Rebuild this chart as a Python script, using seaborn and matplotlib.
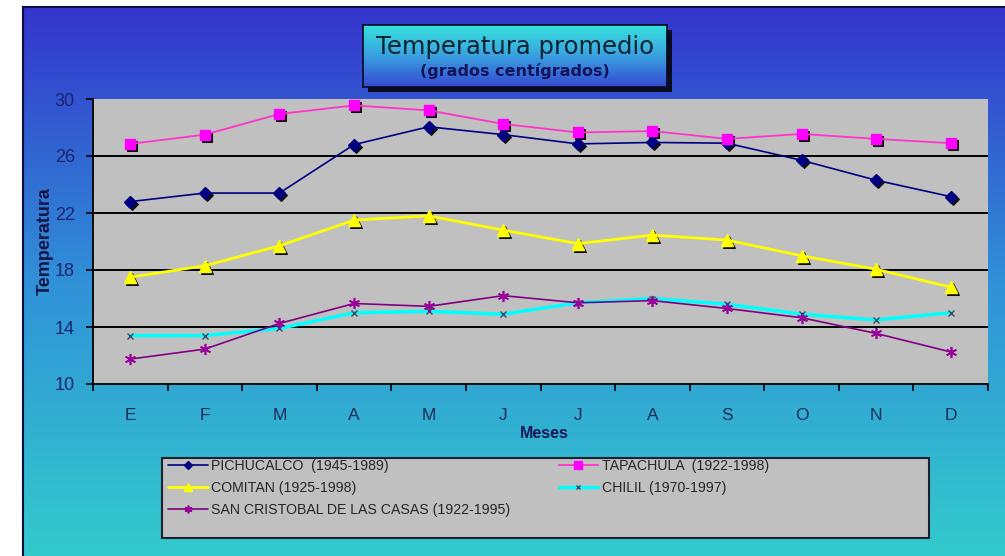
import numpy as np
import matplotlib
matplotlib.use("Agg")
import matplotlib.pyplot as plt
import matplotlib.transforms as mtransforms
from matplotlib.colors import LinearSegmentedColormap
from matplotlib.patches import Rectangle
import seaborn as sns

# ---------------- data ----------------
months = ["E", "F", "M", "A", "M", "J", "J", "A", "S", "O", "N", "D"]
pichucalco = [22.8, 23.4, 23.4, 26.8, 28.05, 27.5, 26.85, 26.95, 26.9, 25.7, 24.3, 23.15]
tapachula = [26.85, 27.5, 28.95, 29.55, 29.2, 28.25, 27.65, 27.75, 27.2, 27.55, 27.2, 26.9]
comitan = [17.5, 18.3, 19.7, 21.5, 21.8, 20.8, 19.85, 20.45, 20.1, 19.0, 18.05, 16.8]
chilil = [13.4, 13.4, 13.9, 15.0, 15.1, 14.9, 15.7, 16.0, 15.6, 14.9, 14.5, 15.0]
san_cristobal = [11.75, 12.45, 14.25, 15.65, 15.45, 16.2, 15.7, 15.85, 15.3, 14.65, 13.55, 12.25]
series_labels = ["PICHUCALCO  (1945-1989)", "TAPACHULA  (1922-1998)", "COMITAN (1925-1998)",
                 "CHILIL (1970-1997)", "SAN CRISTOBAL DE LAS CASAS (1922-1995)"]
yticks = [10, 14, 18, 22, 26, 30]

# ---------------- figure ----------------
sns.set_theme(style="white")
plt.rcParams["font.family"] = ["Liberation Sans", "DejaVu Sans"]

W, H = 1005, 556
fig = plt.figure(figsize=(W / 100, H / 100), dpi=100)
fig.patch.set_facecolor("white")

def fx(px):
    return px / W

def fy(py):
    return 1 - py / H

# background gradient
bg = fig.add_axes([fx(23), -0.01, fx(W - 23) + 0.02, fy(7) + 0.01], zorder=0)
grad = np.linspace(0, 1, 256)[:, None]
bg_cmap = LinearSegmentedColormap.from_list("bg", ["#3434cc", "#3092d8", "#33cccc"])
bg.imshow(grad, aspect="auto", cmap=bg_cmap, extent=[0, 1, 0, 1])
bg.set_xticks([]); bg.set_yticks([])
for s in ["right", "bottom"]:
    bg.spines[s].set_visible(False)
for s in ["left", "top"]:
    bg.spines[s].set_color("#101040")
    bg.spines[s].set_linewidth(1.5)

# title box with shadow
fig.patches.append(Rectangle((fx(368), fy(92)), fx(304), 62 / H, transform=fig.transFigure,
                             facecolor="#0a0a20", edgecolor="none", zorder=1))
tb = fig.add_axes([fx(363), fy(87), fx(304), 62 / H], zorder=2)
tb_cmap = LinearSegmentedColormap.from_list("tb", ["#36e2de", "#3aa0e0", "#3448d0"])
tb.imshow(grad, aspect="auto", cmap=tb_cmap, extent=[0, 1, 0, 1])
tb.set_xticks([]); tb.set_yticks([])
for s in tb.spines.values():
    s.set_color("#0a0a20"); s.set_linewidth(1.2)
tb.text(0.5, 0.64, "Temperatura promedio", ha="center", va="center", fontsize=17.5,
        family=["DejaVu Sans"], color="#0b2330", transform=tb.transAxes)
tb.text(0.5, 0.26, "(grados centígrados)", ha="center", va="center", fontsize=11.5,
        fontweight="bold", family=["DejaVu Sans"], color="#14145a", transform=tb.transAxes)

# main axes
ax = fig.add_axes([fx(93), fy(384), fx(988) - fx(93), 285 / H], zorder=3)
ax.set_facecolor("#c0c0c0")

xpos = np.arange(len(months))
styles = [
    dict(data=pichucalco, color="#000080", marker="D", ms=6.5, mfc="#000080", mec="#000080", lw=1.2, mew=1, shadow=True),
    dict(data=tapachula, color="#ff33cc", marker="s", ms=7.5, mfc="#ff00ff", mec="#ff00ff", lw=1.3, mew=1, shadow=True),
    dict(data=comitan, color="#ffff00", marker="^", ms=8, mfc="#ffff00", mec="#ffff00", lw=2.0, mew=1, shadow=True),
    dict(data=chilil, color="#00ffff", marker="x", ms=5, mfc="#3a4a60", mec="#3a4a60", lw=2.5, mew=1, shadow=False),
    dict(data=san_cristobal, color="#800080", marker=(6, 2, 0), ms=8, mfc="#990099", mec="#990099", lw=1.2, mew=1.2, shadow=False),
]

shadow_tr = ax.transData + mtransforms.ScaledTranslation(0.02, -0.02, fig.dpi_scale_trans)
main_lines = []
for st, lab in zip(styles, series_labels):
    if st["shadow"]:
        sns.lineplot(x=xpos, y=st["data"], ax=ax, color="#101010", marker=st["marker"],
                     markersize=st["ms"], markeredgecolor="#101010", markerfacecolor="#101010",
                     linestyle="", zorder=3)
        ax.lines[-1].set_transform(shadow_tr)
    sns.lineplot(x=xpos, y=st["data"], ax=ax, color=st["color"], marker=st["marker"],
                 markersize=st["ms"], markerfacecolor=st["mfc"], markeredgecolor=st["mec"],
                 markeredgewidth=st["mew"], linewidth=st["lw"], label=lab, zorder=4)
    main_lines.append(ax.lines[-1])

if ax.get_legend() is not None:
    ax.get_legend().remove()

# axes formatting
ax.set_xlim(-0.5, len(months) - 0.5)
ax.set_ylim(yticks[0], yticks[-1])
ax.set_yticks(yticks)
ax.set_yticklabels([str(v) for v in yticks])
ax.set_xticks(np.arange(-0.5, len(months), 1.0))
ax.set_xticklabels([])
ax.set_xticks(xpos, minor=True)
ax.set_xticklabels(months, minor=True)
ax.tick_params(axis="x", which="major", direction="out", length=5, width=1.2, color="black", bottom=True)
ax.tick_params(axis="x", which="minor", length=0, pad=17, labelsize=12.5, labelcolor="#1c2c56")
ax.tick_params(axis="y", direction="out", length=5, width=1.2, color="black", left=True,
               pad=8, labelsize=13, labelcolor="#1c2470")

ax.grid(axis="y", color="#000000", linewidth=1.4)
ax.grid(axis="x", visible=False)
ax.set_axisbelow(True)
glines = ax.get_ygridlines()
glines[0].set_visible(False)
glines[-1].set_visible(False)

for s in ["top", "right"]:
    ax.spines[s].set_visible(False)
for s in ["left", "bottom"]:
    ax.spines[s].set_color("black")
    ax.spines[s].set_linewidth(1.3)

ax.set_xlabel("Meses", fontsize=11.5, fontweight="bold", color="#151555")
ax.xaxis.set_label_coords(0.504, (384 - 434) / 285)
ax.xaxis.label.set_va("center")
ax.set_ylabel("Temperatura", fontsize=13, fontweight="bold", color="#151545")
ax.yaxis.set_label_coords((45 - 93) / 895, 0.5)
ax.yaxis.label.set_va("center")

# legend box
fig.patches.append(Rectangle((fx(162), fy(538)), fx(929) - fx(162), 80 / H, transform=fig.transFigure,
                             facecolor="#c0c0c0", edgecolor="#1a2030", linewidth=1.5, zorder=4))
order = [0, 2, 4, 1, 3]
leg = fig.legend([main_lines[i] for i in order], [series_labels[i] for i in order],
                 loc="upper left", bbox_to_anchor=(fx(168), fy(459)), ncol=2, frameon=False,
                 fontsize=10.2, handlelength=2.8, handletextpad=0.25, columnspacing=3.4,
                 labelspacing=0.55, borderpad=0, borderaxespad=0, markerscale=0.7)
leg.set_zorder(5)

fig.savefig("out.png", dpi=100, facecolor=fig.get_facecolor())
